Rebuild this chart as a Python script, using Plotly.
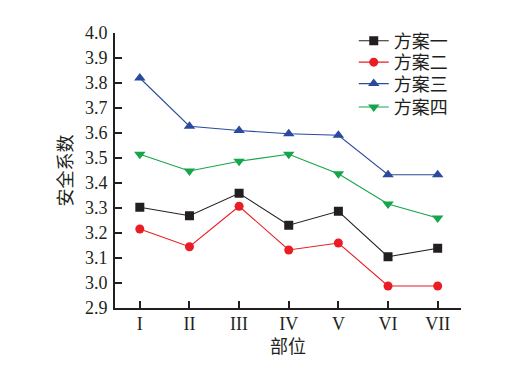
import plotly.graph_objects as go

categories = ["I", "II", "III", "IV", "V", "VI", "VII"]
scheme1 = [3.303, 3.269, 3.359, 3.231, 3.287, 3.105, 3.139]
scheme2 = [3.216, 3.145, 3.307, 3.132, 3.160, 2.988, 2.988]
scheme3 = [3.820, 3.627, 3.610, 3.597, 3.591, 3.433, 3.433]
scheme4 = [3.515, 3.448, 3.487, 3.515, 3.437, 3.316, 3.260]
names = ["方案一", "方案二", "方案三", "方案四"]
yticks = [2.9, 3.0, 3.1, 3.2, 3.3, 3.4, 3.5, 3.6, 3.7, 3.8, 3.9, 4.0]

FONT = "Liberation Serif, Times New Roman, Noto Sans CJK SC, serif"

styles = [
    dict(color="#231f20", symbol="square", size=9),
    dict(color="#ea1c24", symbol="circle", size=9),
    dict(color="#2b4a9e", symbol="triangle-up", size=10),
    dict(color="#15a54a", symbol="triangle-down", size=10),
]
legend_ids = ["legend", "legend2", "legend3", "legend4"]
legend_y = [0.971, 0.893, 0.815, 0.730]

fig = go.Figure()
x = list(range(len(categories)))
for name, vals, st, lid in zip(names, [scheme1, scheme2, scheme3, scheme4], styles, legend_ids):
    fig.add_trace(go.Scatter(
        x=x, y=vals, name=name, mode="lines+markers", legend=lid,
        line=dict(color=st["color"], width=1.1),
        marker=dict(color=st["color"], symbol=st["symbol"], size=st["size"]),
    ))

legend_common = dict(x=0.69, xanchor="left", yanchor="middle",
                     bgcolor="rgba(0,0,0,0)", font=dict(size=18),
                     itemwidth=30)

fig.update_layout(
    width=522, height=374,
    margin=dict(l=107, r=69, t=25, b=74),
    paper_bgcolor="white", plot_bgcolor="white",
    font=dict(family=FONT, size=18, color="#231f20"),
    showlegend=True,
    xaxis=dict(
        range=[-0.5, 6.47], tickmode="array", tickvals=x, ticktext=categories,
        showline=True, linecolor="#231f20", linewidth=2, mirror=False,
        ticks="inside", ticklen=7, tickwidth=2, tickcolor="#231f20",
        showgrid=False, zeroline=False, ticklabelstandoff=-2,
        title=dict(text="部位", font=dict(size=18), standoff=8),
    ),
    yaxis=dict(
        range=[2.9, 4.0], tickmode="array", tickvals=yticks,
        ticktext=[f"{v:.1f}" for v in yticks],
        showline=True, linecolor="#231f20", linewidth=2, mirror=False,
        ticks="inside", ticklen=7, tickwidth=2, tickcolor="#231f20",
        showgrid=False, zeroline=False, ticklabelstandoff=2,
        title=dict(text="安全系数", font=dict(size=18), standoff=8),
    ),
)
for lid, ly in zip(legend_ids, legend_y):
    fig.update_layout({lid: dict(legend_common, y=ly)})

fig.write_html("out.html")
